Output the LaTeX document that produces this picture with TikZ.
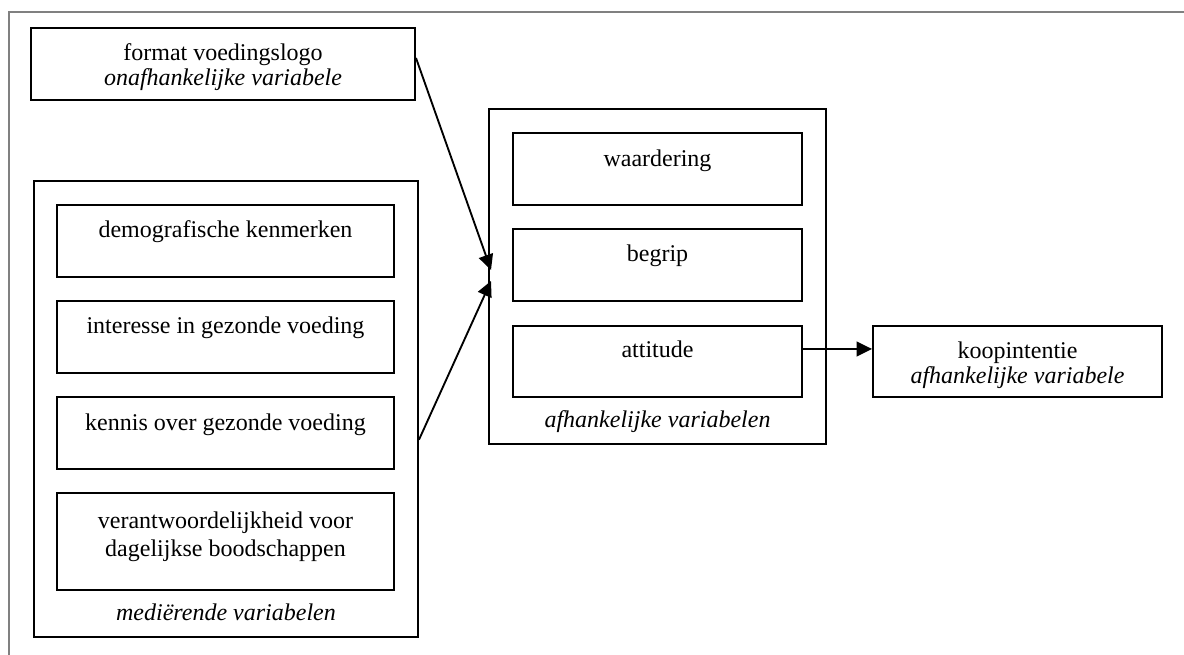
\documentclass[tikz,border=0pt]{standalone}
\usepackage{fontspec}
\setmainfont{Liberation Serif}
\usetikzlibrary{fit,arrows.meta}
\begin{document}
\begin{tikzpicture}[x=0.75pt,y=-0.75pt,
  box/.style={draw=black,line width=1.5pt,inner sep=0pt,fill=none},
  txt/.style={anchor=base,inner sep=0pt,font=\fontsize{18pt}{20pt}\selectfont},
  itxt/.style={txt,font=\fontsize{18pt}{20pt}\selectfont\itshape},
  arr/.style={line width=1.4pt,-{Triangle[length=11.5pt,width=11pt]}}]
\useasboundingbox (0,0) rectangle (1184,655);
% gray frame
\draw[line width=1.5pt,color=black!50] (9,655) -- (9,12) -- (1184,12);
% format box
\node[box,fit={(31,28) (415,100)}] (fmt) {};
\node[txt] (fmtA) at (223,61) {format voedingslogo};
\node[itxt] (fmtB) at (223,86) {onafhankelijke variabele};
% mediating outer
\node[box,fit={(34,181) (418,637)}] (med) {};
\node[box,fit={(57,205) (394,277)}] (demo) {};
\node[txt] (demoT) at (225.5,238) {demografische kenmerken};
\node[box,fit={(57,301) (394,373)}] (inter) {};
\node[txt] (interT) at (225.5,334) {interesse in gezonde voeding};
\node[box,fit={(57,397) (394,469)}] (kennis) {};
\node[txt] (kennisT) at (225.5,431) {kennis over gezonde voeding};
\node[box,fit={(57,493) (394,590)}] (verant) {};
\node[txt] (verantA) at (225.5,528) {verantwoordelijkheid voor};
\node[txt] (verantB) at (225.5,556) {dagelijkse boodschappen};
\node[itxt] (medT) at (226,620) {mediërende variabelen};
% dependent outer
\node[box,fit={(489,109) (826,444)}] (afh) {};
\node[box,fit={(513,133) (802,205)}] (waard) {};
\node[txt] (waardT) at (657.5,167) {waardering};
\node[box,fit={(513,229) (802,301)}] (begrip) {};
\node[txt] (begripT) at (657.5,262) {begrip};
\node[box,fit={(513,326) (802,397)}] (att) {};
\node[txt] (attT) at (657.5,358) {attitude};
\node[itxt] (afhT) at (657.5,427) {afhankelijke variabelen};
% koopintentie
\node[box,fit={(873,326) (1162,397)}] (koop) {};
\node[txt] (koopA) at (1017.5,359) {koopintentie};
\node[itxt] (koopB) at (1017.5,384) {afhankelijke variabele};
% arrows
\coordinate (t1) at (491,270);
\coordinate (t2) at (491,281);
\draw[arr] ([yshift=4.5pt]fmt.east) -- (t1);
\draw[arr] ([yshift=-23pt]med.east) -- (t2);
\draw[arr] ([yshift=9.4pt]att.east) -- ([yshift=9.4pt]koop.west);
\end{tikzpicture}
\end{document}
